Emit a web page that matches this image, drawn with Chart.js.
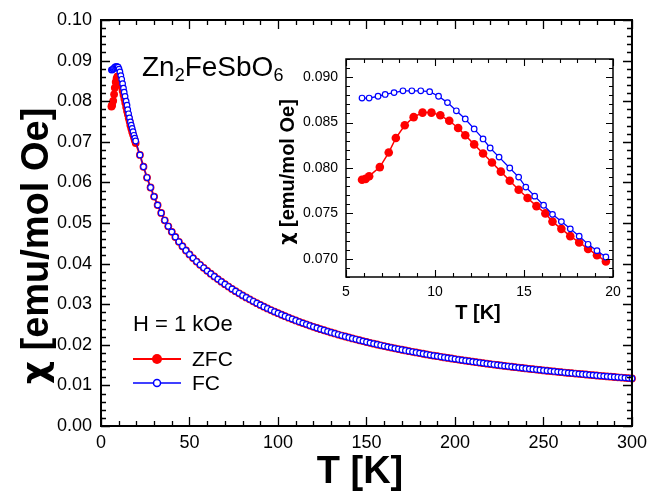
<!DOCTYPE html>
<html><head><meta charset="utf-8">
<script src="https://cdn.jsdelivr.net/npm/chart.js@4.4.1/dist/chart.umd.min.js"></script>
<style>
html,body{margin:0;padding:0;background:#fff;}
#wrap{position:relative;width:653px;height:497px;overflow:hidden;}
#main{position:absolute;left:0;top:0;}
#inset{position:absolute;left:270px;top:40px;}
</style></head><body>
<div id="wrap"><canvas id="main" width="653" height="497"></canvas><canvas id="inset" width="370" height="300"></canvas></div>
<script>
// ---- data ----
const zfcLowT = [5.9, 6.1, 6.3, 6.9, 7.4, 7.8, 8.3, 8.8, 9.3, 9.8, 10.3, 10.8, 11.3, 11.7, 12.2, 12.7, 13.2, 13.7, 14.2, 14.7, 15.2, 15.7, 16.2, 16.6, 17.1, 17.6, 18.1, 18.6, 19.1, 19.6];
const zfcLowChi = [0.0787, 0.0788, 0.0791, 0.0801, 0.0817, 0.0833, 0.0847, 0.0856, 0.0861, 0.0861, 0.0858, 0.0852, 0.0844, 0.0836, 0.0826, 0.0816, 0.0806, 0.0796, 0.0786, 0.0776, 0.0767, 0.0758, 0.0750, 0.0741, 0.0733, 0.0725, 0.0718, 0.0711, 0.0704, 0.0697];
const fcLowT = [5.9, 6.3, 6.8, 7.2, 7.7, 8.2, 8.7, 9.2, 9.7, 10.2, 10.7, 11.2, 11.7, 12.2, 12.7, 13.1, 13.6, 14.2, 14.7, 15.1, 15.6, 16.1, 16.6, 17.1, 17.6, 18.1, 18.6, 19.1, 19.6];
const fcLowChi = [0.0877, 0.0877, 0.0879, 0.0881, 0.0883, 0.0885, 0.0885, 0.0885, 0.0884, 0.0879, 0.0872, 0.0863, 0.0854, 0.0843, 0.0832, 0.0822, 0.0812, 0.0800, 0.0790, 0.0779, 0.0769, 0.0759, 0.0749, 0.0741, 0.0733, 0.0725, 0.0716, 0.0709, 0.0702];
// above ~20 K ZFC and FC coincide within the picture resolution
const highT = [22,24,26,28,30,32,34,36,38,40,42,44,46,48,50,52,54,56,58,60,62,64,66,68,70,72,74,76,78,80,82,84,86,88,90,92,94,96,98,100,102,104,106,108,110,112,114,116,118,120,122,124,126,128,130,132,134,136,138,140,142,144,146,148,150,152,154,156,158,160,162,164,166,168,170,172,174,176,178,180,182,184,186,188,190,192,194,196,198,200,202,204,206,208,210,212,214,216,218,220,222,224,226,228,230,232,234,236,238,240,242,244,246,248,250,252,254,256,258,260,262,264,266,268,270,272,274,276,278,280,282,284,286,288,290,292,294,296,298,300];
const highChi = [0.06676,0.06386,0.06120,0.05875,0.05650,0.05441,0.05247,0.05066,0.04919,0.04782,
0.04655,0.04537,0.04427,0.04323,0.04227,0.04136,0.04050,0.03971,0.03896,0.03821,
0.03751,0.03683,0.03618,0.03555,0.03494,0.03435,0.03377,0.03322,0.03269,0.03217,
0.03168,0.03119,0.03072,0.03026,0.02982,0.02939,0.02897,0.02856,0.02817,0.02778,
0.02740,0.02704,0.02668,0.02634,0.02600,0.02567,0.02535,0.02504,0.02473,0.02443,
0.02414,0.02386,0.02358,0.02331,0.02304,0.02279,0.02253,0.02228,0.02204,0.02181,
0.02157,0.02135,0.02112,0.02091,0.02069,0.02048,0.02028,0.02008,0.01988,0.01969,
0.01950,0.01931,0.01913,0.01895,0.01878,0.01861,0.01844,0.01827,0.01811,0.01795,
0.01779,0.01763,0.01748,0.01733,0.01719,0.01704,0.01690,0.01676,0.01662,0.01649,
0.01636,0.01622,0.01610,0.01597,0.01584,0.01572,0.01560,0.01548,0.01536,0.01525,
0.01513,0.01502,0.01491,0.01480,0.01470,0.01459,0.01449,0.01438,0.01428,0.01418,
0.01408,0.01399,0.01389,0.01380,0.01370,0.01361,0.01352,0.01343,0.01334,0.01326,
0.01317,0.01308,0.01300,0.01292,0.01284,0.01276,0.01268,0.01260,0.01252,0.01244,
0.01237,0.01229,0.01222,0.01214,0.01207,0.01200,0.01193,0.01186,0.01179,0.01172];
const mainXTicks = [0, 50, 100, 150, 200, 250, 300];
const mainYTicks = [0, 0.01, 0.02, 0.03, 0.04, 0.05, 0.06, 0.07, 0.08, 0.09, 0.10];
const insetXTicks = [5, 10, 15, 20];
const insetYTicks = [0.070, 0.075, 0.080, 0.085, 0.090];
const seriesNames = ['ZFC', 'FC'];

const RED = '#ff0000', BLUE = '#0000ff';
const FONT = "'Liberation Sans', Arial, sans-serif";
const GREEK = "'DejaVu Sans', 'Liberation Sans', sans-serif";
Chart.defaults.font.family = FONT;
Chart.defaults.color = '#000';

const pts = (xs, ys) => xs.map((x, i) => ({x, y: ys[i]}));
const zfcMain = pts(zfcLowT.concat(highT), zfcLowChi.concat(highChi));
const fcMain = pts(fcLowT.concat(highT), fcLowChi.concat(highChi));

function stepsBetween(min, max, step){
  const out = [];
  const n0 = Math.ceil(min/step - 1e-6), n1 = Math.floor(max/step + 1e-6);
  for (let i = n0; i <= n1; i++) out.push(i*step);
  return out;
}
// y title: chi in a Greek-friendly face, rest in Arial metrics
function yTitle(ctx, cx, cy, size){
  ctx.save();
  ctx.translate(cx, cy); ctx.rotate(-Math.PI/2);
  ctx.textAlign = 'left'; ctx.textBaseline = 'middle'; ctx.fillStyle = '#000';
  const fChi = 'bold ' + Math.round(size*0.95) + 'px ' + GREEK;
  const fRest = 'bold ' + size + 'px ' + FONT;
  const rest = ' [emu/mol Oe]';
  ctx.font = fChi; const w1 = ctx.measureText('χ').width;
  ctx.font = fRest; const w2 = ctx.measureText(rest).width;
  let x = -(w1 + w2)/2;
  ctx.font = fChi; ctx.fillText('χ', x, 0);
  ctx.font = fRest; ctx.fillText(rest, x + w1, 0);
  ctx.restore();
}
const frameTicks = {
  id: 'frameTicks',
  afterDatasetsDraw(chart, args, o){
    const {ctx, chartArea: a} = chart;
    const xs = chart.scales.x, ys = chart.scales.y;
    ctx.save();
    ctx.strokeStyle = '#000';
    ctx.lineWidth = o.tickWidth;
    ctx.beginPath();
    for (const v of stepsBetween(xs.min, xs.max, o.xMinor)) {
      const r = v / o.xMajor, major = Math.abs(r - Math.round(r)) < 1e-6;
      const L = major ? o.majorLen : o.minorLen;
      const px = Math.round(xs.getPixelForValue(v)) + 0.5;
      ctx.moveTo(px, a.bottom); ctx.lineTo(px, a.bottom - L);
      ctx.moveTo(px, a.top); ctx.lineTo(px, a.top + L);
    }
    for (const v of stepsBetween(ys.min, ys.max, o.yMinor)) {
      const r = v / o.yMajor, major = Math.abs(r - Math.round(r)) < 1e-6;
      const L = major ? o.majorLen : o.minorLen;
      const py = Math.round(ys.getPixelForValue(v)) + 0.5;
      ctx.moveTo(a.left, py); ctx.lineTo(a.left + L, py);
      ctx.moveTo(a.right, py); ctx.lineTo(a.right - L, py);
    }
    ctx.stroke();
    ctx.lineWidth = o.frameWidth;
    ctx.strokeRect(a.left, a.top, a.width, a.height);
    ctx.restore();
  }
};
const textLayer = {
  id: 'textLayer',
  afterDraw(chart, args, o){
    if (o.draw) o.draw(chart.ctx, chart);
  }
};

new Chart(document.getElementById('main'), {
  type: 'scatter',
  data: { datasets: [
    { label: seriesNames[1], data: fcMain, showLine: true, borderColor: BLUE, borderWidth: 1,
      pointRadius: 2.8, pointBackgroundColor: '#fff', pointBorderColor: BLUE, pointBorderWidth: 1.2, clip: false, order: 0 },
    { label: seriesNames[0], data: zfcMain, showLine: true, borderColor: RED, borderWidth: 2,
      pointRadius: 3.9, pointBackgroundColor: RED, pointBorderColor: RED, pointBorderWidth: 0, clip: false, order: 1 }
  ]},
  options: {
    responsive: false, animation: false, devicePixelRatio: 1,
    layout: { padding: { left: 0, right: 17, top: 20, bottom: 0 } },
    plugins: {
      legend: { display: false }, tooltip: { enabled: false },
      frameTicks: { xMajor: 50, xMinor: 10, yMajor: 0.01, yMinor: 0.002, majorLen: 9, minorLen: 5, tickWidth: 1.3, frameWidth: 2 },
      textLayer: { draw(ctx){
        ctx.save();
        ctx.fillStyle = '#000';
        ctx.textBaseline = 'alphabetic'; ctx.textAlign = 'left';
        // formula Zn2FeSbO6
        let x = 142; const base = 76;
        const part = (t, size, dy) => { ctx.font = size + 'px ' + FONT; ctx.fillText(t, x, base + dy); x += ctx.measureText(t).width; };
        part('Zn', 28, 0); part('2', 18, 5); part('FeSbO', 28, 0); part('6', 18, 5);
        // field
        ctx.font = '22px ' + FONT; ctx.textBaseline = 'middle';
        ctx.fillText('H = 1 kOe', 133, 325);
        // legend
        ctx.lineWidth = 2; ctx.strokeStyle = RED;
        ctx.beginPath(); ctx.moveTo(133, 359); ctx.lineTo(181, 359); ctx.stroke();
        ctx.fillStyle = RED; ctx.beginPath(); ctx.arc(157, 359, 5, 0, Math.PI*2); ctx.fill();
        ctx.lineWidth = 1.5; ctx.strokeStyle = BLUE;
        ctx.beginPath(); ctx.moveTo(133, 383); ctx.lineTo(181, 383); ctx.stroke();
        ctx.fillStyle = '#fff'; ctx.beginPath(); ctx.arc(157, 383, 3.5, 0, Math.PI*2); ctx.fill(); ctx.stroke();
        ctx.fillStyle = '#000'; ctx.font = '21px ' + FONT;
        ctx.fillText(seriesNames[0], 192, 360);
        ctx.fillText(seriesNames[1], 192, 384);
        // axis titles
        ctx.font = 'bold 38px ' + FONT; ctx.textAlign = 'center';
        ctx.fillText('T [K]', 360, 473);
        ctx.restore();
        yTitle(ctx, 38, 246, 38);
      }}
    },
    scales: {
      x: { type: 'linear', min: 0, max: 300,
        afterBuildTicks: s => { s.ticks = mainXTicks.map(v => ({value: v})); },
        afterFit: s => { s.height = 71; },
        grid: { display: false, drawTicks: false }, border: { display: false },
        ticks: { font: { size: 18 }, padding: 6, maxRotation: 0, callback: v => String(v) } },
      y: { type: 'linear', min: 0, max: 0.10,
        afterBuildTicks: s => { s.ticks = mainYTicks.map(v => ({value: v})); },
        afterFit: s => { s.width = 101; },
        grid: { display: false, drawTicks: false }, border: { display: false },
        ticks: { font: { size: 18 }, padding: 9, callback: v => Number(v).toFixed(2) } }
    }
  },
  plugins: [frameTicks, textLayer]
});

new Chart(document.getElementById('inset'), {
  type: 'scatter',
  data: { datasets: [
    { label: seriesNames[1], data: pts(fcLowT, fcLowChi), showLine: true, borderColor: BLUE, borderWidth: 1.3,
      pointRadius: 2.8, pointBackgroundColor: '#fff', pointBorderColor: BLUE, pointBorderWidth: 1.2, clip: false, order: 0 },
    { label: seriesNames[0], data: pts(zfcLowT, zfcLowChi), showLine: true, borderColor: RED, borderWidth: 1.5,
      pointRadius: 4.3, pointBackgroundColor: RED, pointBorderColor: RED, pointBorderWidth: 0, clip: false, order: 1 }
  ]},
  options: {
    responsive: false, animation: false, devicePixelRatio: 1,
    layout: { padding: { left: 0, right: 27, top: 19, bottom: 0 } },
    plugins: {
      legend: { display: false }, tooltip: { enabled: false },
      frameTicks: { xMajor: 5, xMinor: 1, yMajor: 0.005, yMinor: 0.001, majorLen: 7, minorLen: 4, tickWidth: 1.1, frameWidth: 1.5 },
      textLayer: { draw(ctx){
        ctx.save();
        ctx.fillStyle = '#000'; ctx.textAlign = 'center'; ctx.textBaseline = 'middle';
        ctx.font = 'bold 20px ' + FONT;
        ctx.fillText('T [K]', 208, 273);
        ctx.restore();
        yTitle(ctx, 18, 132, 20);
      }}
    },
    scales: {
      x: { type: 'linear', min: 5, max: 20,
        afterBuildTicks: s => { s.ticks = insetXTicks.map(v => ({value: v})); },
        afterFit: s => { s.height = 63; },
        grid: { display: false, drawTicks: false }, border: { display: false },
        ticks: { font: { size: 14 }, padding: 7, maxRotation: 0, callback: v => String(v) } },
      y: { type: 'linear', min: 0.068, max: 0.092,
        afterBuildTicks: s => { s.ticks = insetYTicks.map(v => ({value: v})); },
        afterFit: s => { s.width = 76; },
        grid: { display: false, drawTicks: false }, border: { display: false },
        ticks: { font: { size: 14 }, padding: 8, callback: v => Number(v).toFixed(3) } }
    }
  },
  plugins: [frameTicks, textLayer]
});
</script>
</body></html>
